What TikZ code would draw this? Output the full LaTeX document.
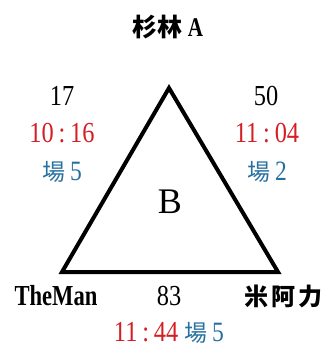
\documentclass[tikz,border=0pt]{standalone}
\usepackage{fontspec}
\setmainfont{Liberation Serif}
\newfontfamily\cjk{Noto Sans CJK TC}
\newfontfamily\condb[FakeStretch=0.78]{Liberation Serif Bold}
\newfontfamily\condn[FakeStretch=0.84]{Liberation Serif}
\definecolor{tred}{RGB}{212,30,36}
\definecolor{tblue}{RGB}{38,112,160}
\begin{document}
\begin{tikzpicture}[x=1pt,y=-1pt,
  num/.style={inner sep=0pt,font=\fontsize{29}{29}\condn},
  tim/.style={num,text=tred},
  fld/.style={inner sep=0pt,text=tblue,font=\fontsize{28}{28}\condn},
  nm/.style={inner sep=0pt,font=\fontsize{24}{24}\cjk\bfseries}]
\useasboundingbox (0,0) rectangle (327,347);
\coordinate (top) at (169,88);
\coordinate (bl) at (62,272);
\coordinate (br) at (278,272);
\draw[line width=4pt,line join=miter] (top) -- (br) -- (bl) -- cycle;
\node[nm,font=\fontsize{25}{25}\cjk\bfseries] (a) at (168,27) {杉林\hspace{5pt}{\fontsize{27}{27}\condb A}};
\node[num] (n17) at (62,96) {17};
\node[num] (n50) at (266,96) {50};
\node[tim] (t1) at (62,133) {10\,:\,16};
\node[tim] (t2) at (267,133) {11\,:\,04};
\node[fld] (f1) at (62,172) {{\fontsize{23}{23}\cjk 場}\hspace{5pt}5};
\node[fld] (f2) at (267,172) {{\fontsize{23}{23}\cjk 場}\hspace{5pt}2};
\node[inner sep=0pt,font=\fontsize{36}{36}\selectfont] (b) at (170,202) {B};
\node[inner sep=0pt,font=\fontsize{29}{29}\condb] (tm) at (56,296) {TheMan};
\node[num] (n83) at (169,296) {83};
\node[nm] (m) at (283,296) {米\hspace{3pt}阿\hspace{3pt}力};
\node[inner sep=0pt] (bot) at (169,333) {{\fontsize{29}{29}\condn\color{tred}11\,:\,44}\hspace{6pt}{\fontsize{28}{28}\condn\color{tblue}{\fontsize{23}{23}\cjk 場}\hspace{5pt}5}};
\end{tikzpicture}
\end{document}
